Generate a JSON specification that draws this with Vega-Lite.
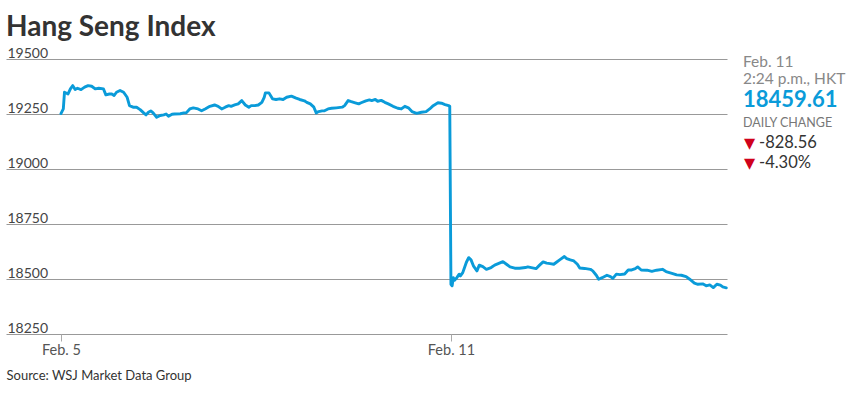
{
  "$schema": "https://vega.github.io/schema/vega-lite/v6.json",
  "padding": {"left": 6, "top": 14, "right": 0, "bottom": 0},
  "background": "white",
  "title": {"text": "Hang Seng Index", "anchor": "start", "font": "Lato", "fontSize": 28, "fontWeight": "bold", "color": "#333333", "offset": 4},
  "config": {"view": {"stroke": null}, "concat": {"spacing": 15}},
  "datasets": {
    "hsi": [
      {"t":0,"v":19252},{"t":2,"v":19273},{"t":3,"v":19349},{"t":6,"v":19341},{"t":8,"v":19364},{"t":10,"v":19379},{"t":12,"v":19361},{"t":14,"v":19367},{"t":17,"v":19361},{"t":20,"v":19372},{"t":23,"v":19379},{"t":26,"v":19376},{"t":29,"v":19364},{"t":32,"v":19367},{"t":36,"v":19364},{"t":38,"v":19337},{"t":41,"v":19341},{"t":43,"v":19341},{"t":45,"v":19334},{"t":47,"v":19349},{"t":50,"v":19357},{"t":53,"v":19349},{"t":56,"v":19326},{"t":58,"v":19288},{"t":61,"v":19281},{"t":64,"v":19281},{"t":67,"v":19270},{"t":70,"v":19255},{"t":72,"v":19246},{"t":74,"v":19258},{"t":76,"v":19264},{"t":78,"v":19255},{"t":81,"v":19235},{"t":84,"v":19243},{"t":87,"v":19246},{"t":89,"v":19250},{"t":91,"v":19240},{"t":94,"v":19249},{"t":96,"v":19250},{"t":101,"v":19251},{"t":104,"v":19255},{"t":106,"v":19255},{"t":109,"v":19273},{"t":112,"v":19278},{"t":116,"v":19273},{"t":119,"v":19265},{"t":122,"v":19273},{"t":126,"v":19285},{"t":130,"v":19291},{"t":133,"v":19285},{"t":136,"v":19273},{"t":139,"v":19281},{"t":142,"v":19288},{"t":144,"v":19285},{"t":147,"v":19291},{"t":150,"v":19296},{"t":153,"v":19311},{"t":156,"v":19291},{"t":159,"v":19281},{"t":161,"v":19288},{"t":164,"v":19288},{"t":167,"v":19291},{"t":170,"v":19303},{"t":172,"v":19326},{"t":173,"v":19346},{"t":176,"v":19346},{"t":179,"v":19319},{"t":182,"v":19316},{"t":185,"v":19319},{"t":188,"v":19316},{"t":191,"v":19326},{"t":195,"v":19331},{"t":199,"v":19322},{"t":202,"v":19316},{"t":206,"v":19310},{"t":208,"v":19303},{"t":211,"v":19296},{"t":214,"v":19281},{"t":216,"v":19255},{"t":218,"v":19261},{"t":221,"v":19264},{"t":223,"v":19265},{"t":226,"v":19273},{"t":229,"v":19276},{"t":233,"v":19278},{"t":238,"v":19281},{"t":240,"v":19288},{"t":243,"v":19311},{"t":245,"v":19307},{"t":249,"v":19301},{"t":252,"v":19296},{"t":254,"v":19301},{"t":258,"v":19310},{"t":261,"v":19314},{"t":263,"v":19311},{"t":266,"v":19316},{"t":268,"v":19308},{"t":271,"v":19312},{"t":274,"v":19303},{"t":277,"v":19296},{"t":281,"v":19285},{"t":285,"v":19276},{"t":288,"v":19273},{"t":291,"v":19285},{"t":294,"v":19278},{"t":297,"v":19261},{"t":301,"v":19253},{"t":305,"v":19258},{"t":309,"v":19261},{"t":312,"v":19273},{"t":315,"v":19288},{"t":319,"v":19301},{"t":322,"v":19299},{"t":325,"v":19293},{"t":328,"v":19288},{"t":329,"v":19285},
      {"t":330,"v":18476},{"t":331,"v":18469},{"t":332,"v":18506},{"t":333,"v":18494},{"t":335,"v":18506},{"t":337,"v":18522},{"t":338,"v":18514},{"t":340,"v":18529},{"t":341,"v":18544},{"t":343,"v":18575},{"t":345,"v":18597},{"t":347,"v":18587},{"t":349,"v":18560},{"t":352,"v":18537},{"t":354,"v":18563},{"t":357,"v":18556},{"t":360,"v":18544},{"t":364,"v":18552},{"t":367,"v":18563},{"t":371,"v":18572},{"t":374,"v":18579},{"t":377,"v":18567},{"t":380,"v":18555},{"t":384,"v":18549},{"t":388,"v":18549},{"t":393,"v":18552},{"t":395,"v":18555},{"t":398,"v":18552},{"t":402,"v":18547},{"t":405,"v":18563},{"t":408,"v":18578},{"t":411,"v":18572},{"t":414,"v":18570},{"t":417,"v":18567},{"t":419,"v":18575},{"t":422,"v":18587},{"t":426,"v":18602},{"t":428,"v":18593},{"t":431,"v":18587},{"t":434,"v":18582},{"t":437,"v":18567},{"t":439,"v":18550},{"t":443,"v":18548},{"t":448,"v":18544},{"t":450,"v":18537},{"t":453,"v":18517},{"t":455,"v":18499},{"t":458,"v":18506},{"t":462,"v":18517},{"t":465,"v":18511},{"t":467,"v":18503},{"t":470,"v":18522},{"t":473,"v":18520},{"t":477,"v":18523},{"t":480,"v":18541},{"t":483,"v":18541},{"t":486,"v":18547},{"t":488,"v":18555},{"t":491,"v":18541},{"t":496,"v":18540},{"t":500,"v":18535},{"t":504,"v":18540},{"t":509,"v":18544},{"t":512,"v":18534},{"t":517,"v":18526},{"t":521,"v":18519},{"t":525,"v":18517},{"t":529,"v":18511},{"t":532,"v":18499},{"t":536,"v":18481},{"t":539,"v":18476},{"t":543,"v":18478},{"t":546,"v":18469},{"t":549,"v":18473},{"t":552,"v":18461},{"t":555,"v":18476},{"t":558,"v":18472},{"t":560,"v":18464},{"t":563,"v":18460}
    ],
    "panel": [
      {"line":1,"text":"Feb. 11","kind":"date"},
      {"line":2,"text":"2:24 p.m., HKT","kind":"time"},
      {"line":3,"text":"18459.61","kind":"last"},
      {"line":4,"text":"DAILY CHANGE","kind":"head"},
      {"line":5,"text":"-828.56","kind":"chg"},
      {"line":6,"text":"-4.30%","kind":"chg"}
    ]
  },
  "hconcat": [
    {
      "width": 721,
      "height": 275,
      "data": {"name": "hsi"},
      "mark": {"type": "line", "color": "#0a9bd9", "strokeWidth": 2.9, "strokeJoin": "round", "strokeCap": "round"},
      "encoding": {
        "x": {
          "field": "t", "type": "quantitative",
          "scale": {"domain": [-46.5, 563.6], "nice": false, "zero": false},
          "axis": {
            "values": [0, 330],
            "labelExpr": "datum.value == 0 ? 'Feb. 5' : 'Feb. 11'",
            "grid": false, "domain": false,
            "ticks": true, "tickSize": 7, "tickColor": "#aaaaaa", "tickWidth": 1,
            "labelFont": "Lato", "labelFontSize": 14.5, "labelColor": "#555555",
            "labelBaseline": "top", "labelPadding": 2, "labelFlush": false,
            "title": "Source: WSJ Market Data Group",
            "titleFont": "Lato", "titleFontSize": 13, "titleFontWeight": "normal", "titleColor": "#333333",
            "titleAnchor": "start", "titleAlign": "left", "titleBaseline": "alphabetic",
            "titleX": 0, "titleY": 45
          }
        },
        "y": {
          "field": "v", "type": "quantitative",
          "scale": {"domain": [18250, 19500], "nice": false, "zero": false},
          "axis": {
            "values": [18250, 18500, 18750, 19000, 19250, 19500],
            "format": "d",
            "grid": true, "gridColor": "#999999", "gridWidth": 1,
            "domain": false, "ticks": false, "tickSize": 0,
            "labelAlign": "left", "labelBaseline": "alphabetic",
            "labelPadding": -1, "labelOffset": -2,
            "labelFont": "Lato", "labelFontSize": 14, "labelColor": "#444444",
            "title": null
          }
        }
      }
    },
    {
      "width": 110,
      "height": 120,
      "data": {"name": "panel"},
      "encoding": {
        "x": {"datum": 0, "type": "quantitative", "scale": {"domain": [0, 1]}, "axis": null},
        "y": {"field": "line", "type": "quantitative", "scale": {"domain": [0.566, 6.548], "reverse": true, "nice": false, "zero": false}, "axis": null},
        "text": {"field": "text"}
      },
      "layer": [
        {"transform": [{"filter": "datum.kind == 'date'"}], "mark": {"type": "text", "align": "left", "baseline": "alphabetic", "font": "Lato", "fontSize": 15.5, "color": "#888888", "dy": -1}},
        {"transform": [{"filter": "datum.kind == 'time'"}], "mark": {"type": "text", "align": "left", "baseline": "alphabetic", "font": "Lato", "fontSize": 15.5, "color": "#888888", "dy": -4}},
        {"transform": [{"filter": "datum.kind == 'last'"}], "mark": {"type": "text", "align": "left", "baseline": "alphabetic", "font": "Lato", "fontSize": 22, "fontWeight": "bold", "color": "#0a9bd9", "dy": -0.5}},
        {"transform": [{"filter": "datum.kind == 'head'"}], "mark": {"type": "text", "align": "left", "baseline": "alphabetic", "font": "Lato", "fontSize": 12.5, "color": "#777777", "dy": -1}},
        {"transform": [{"filter": "datum.kind == 'chg'"}], "mark": {"type": "text", "align": "left", "baseline": "alphabetic", "font": "Lato", "fontSize": 16.5, "color": "#333333", "dx": 16}},
        {"transform": [{"filter": "datum.kind == 'chg'"}], "mark": {"type": "text", "align": "left", "baseline": "alphabetic", "font": "DejaVu Sans", "fontSize": 14.5, "color": "#d0021b", "dx": 1}, "encoding": {"text": {"value": "▼"}}}
      ]
    }
  ]
}
